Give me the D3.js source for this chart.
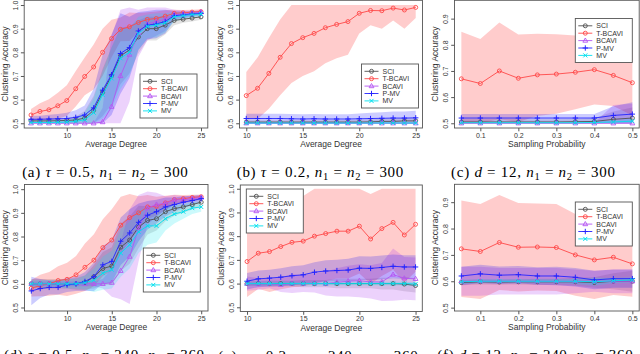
<!DOCTYPE html>
<html>
<head>
<meta charset="utf-8">
<script src="https://cdn.jsdelivr.net/npm/d3@7"></script>
<style>
body { margin: 0; background: #fff; }
svg text { font-family: "Liberation Sans", Arial, sans-serif; }
text.cap { font-family: "Liberation Serif", "DejaVu Serif", serif; }
</style>
</head>
<body>
<svg id="chart" width="640" height="354"></svg>
<script>
// series order used by every mean / sd table below
const seriesNames = ["SCI", "T-BCAVI", "BCAVI", "P-MV", "MV"];

// x values
const degTop = [6,7,8,9,10,11,12,13,14,15,16,17,18,19,20,21,22,23,24,25];
const degMid = [10,11,12,13,14,15,16,17,18,19,20,21,22,23,24,25];
const probs  = [0.05,0.1,0.15,0.2,0.25,0.3,0.35,0.4,0.45,0.5];

// (a) tau = 0.5, n1 = n2 = 300
const meanA = [
  [0.51,0.51,0.51,0.511,0.512,0.514,0.522,0.555,0.63,0.70,0.785,0.81,0.865,0.90,0.90,0.915,0.935,0.94,0.945,0.95],
  [0.535,0.55,0.557,0.574,0.596,0.646,0.698,0.738,0.80,0.858,0.897,0.908,0.926,0.939,0.943,0.953,0.965,0.967,0.970,0.972],
  [0.5,0.5,0.5,0.5,0.5,0.5,0.5,0.5,0.505,0.57,0.70,0.79,0.88,0.92,0.93,0.94,0.96,0.962,0.965,0.97],
  [0.517,0.517,0.518,0.519,0.52,0.525,0.535,0.565,0.64,0.705,0.795,0.82,0.89,0.915,0.92,0.93,0.955,0.958,0.962,0.965],
  [0.503,0.503,0.503,0.504,0.505,0.508,0.515,0.545,0.62,0.69,0.775,0.80,0.88,0.91,0.915,0.925,0.95,0.955,0.96,0.962]
];
const sdA = [
  [0.005,0.005,0.006,0.008,0.01,0.015,0.03,0.06,0.1,0.12,0.12,0.1,0.07,0.05,0.05,0.04,0.02,0.015,0.015,0.012],
  [0.025,0.035,0.045,0.055,0.065,0.075,0.08,0.095,0.1,0.08,0.05,0.06,0.04,0.03,0.03,0.025,0.015,0.012,0.01,0.01],
  [0,0,0,0,0,0,0,0.002,0.06,0.3,0.28,0.2,0.1,0.07,0.06,0.05,0.02,0.015,0.01,0.01],
  [0.015,0.015,0.018,0.02,0.025,0.03,0.04,0.08,0.15,0.17,0.17,0.13,0.08,0.06,0.06,0.05,0.02,0.015,0.012,0.01],
  [0.004,0.004,0.005,0.006,0.008,0.012,0.03,0.06,0.1,0.13,0.13,0.1,0.07,0.05,0.05,0.04,0.02,0.015,0.012,0.012]
];

// (b) tau = 0.2, n1 = n2 = 300
const meanB = [
  [0.505,0.505,0.505,0.505,0.505,0.505,0.505,0.505,0.505,0.505,0.505,0.506,0.508,0.508,0.51,0.51],
  [0.617,0.648,0.711,0.779,0.837,0.862,0.88,0.904,0.918,0.93,0.965,0.977,0.976,0.987,0.979,0.99],
  [0.5,0.5,0.5,0.5,0.5,0.5,0.5,0.5,0.5,0.5,0.5,0.5,0.5,0.5,0.5,0.5],
  [0.52,0.52,0.52,0.52,0.519,0.518,0.519,0.518,0.518,0.518,0.519,0.52,0.521,0.522,0.522,0.523],
  [0.501,0.501,0.501,0.501,0.501,0.501,0.501,0.501,0.501,0.501,0.501,0.501,0.501,0.501,0.501,0.501]
];
const sdB = [
  [0.008,0.008,0.008,0.008,0.008,0.008,0.008,0.008,0.009,0.009,0.01,0.01,0.011,0.012,0.012,0.012],
  [0.1,0.13,0.15,0.16,0.167,0.162,0.16,0.15,0.143,0.14,0.085,0.062,0.076,0.052,0.079,0.045],
  [0.002,0.002,0.002,0.002,0.002,0.002,0.002,0.002,0.002,0.002,0.002,0.002,0.002,0.002,0.002,0.002],
  [0.02,0.02,0.02,0.02,0.02,0.02,0.02,0.02,0.02,0.02,0.022,0.024,0.026,0.028,0.028,0.03],
  [0.003,0.003,0.003,0.003,0.003,0.003,0.003,0.003,0.003,0.003,0.003,0.003,0.003,0.003,0.003,0.003]
];

// (c) d = 12, n1 = n2 = 300
const meanC = [
  [0.505,0.505,0.505,0.505,0.505,0.505,0.506,0.507,0.515,0.52],
  [0.67,0.652,0.70,0.672,0.685,0.688,0.695,0.705,0.683,0.655],
  [0.5,0.5,0.5,0.5,0.5,0.5,0.5,0.5,0.5,0.5],
  [0.52,0.52,0.52,0.52,0.52,0.52,0.52,0.52,0.53,0.535],
  [0.502,0.502,0.502,0.502,0.502,0.502,0.502,0.503,0.505,0.508]
];
const sdC = [
  [0.01,0.01,0.01,0.01,0.01,0.01,0.01,0.012,0.03,0.04],
  [0.18,0.17,0.185,0.167,0.157,0.152,0.141,0.133,0.117,0.125],
  [0.002,0.002,0.002,0.002,0.002,0.002,0.002,0.002,0.07,0.075],
  [0.015,0.015,0.015,0.015,0.015,0.015,0.015,0.015,0.035,0.045],
  [0.003,0.003,0.003,0.003,0.003,0.003,0.003,0.003,0.006,0.01]
];

// (d) tau = 0.5, n1 = 240, n2 = 360
const meanD = [
  [0.60,0.60,0.60,0.60,0.60,0.60,0.605,0.63,0.665,0.675,0.755,0.785,0.84,0.868,0.875,0.905,0.918,0.925,0.935,0.945],
  [0.581,0.593,0.60,0.614,0.619,0.638,0.67,0.70,0.753,0.785,0.848,0.88,0.90,0.925,0.928,0.942,0.956,0.96,0.965,0.968],
  [0.60,0.60,0.60,0.60,0.60,0.60,0.60,0.60,0.60,0.605,0.655,0.715,0.835,0.92,0.935,0.94,0.955,0.955,0.96,0.965],
  [0.57,0.58,0.585,0.585,0.595,0.60,0.61,0.63,0.68,0.695,0.78,0.815,0.86,0.89,0.905,0.925,0.935,0.945,0.952,0.96],
  [0.60,0.60,0.60,0.60,0.60,0.60,0.605,0.615,0.645,0.66,0.73,0.765,0.82,0.845,0.845,0.875,0.895,0.905,0.92,0.925]
];
const sdD = [
  [0.02,0.02,0.02,0.02,0.02,0.025,0.03,0.05,0.07,0.08,0.1,0.1,0.09,0.06,0.05,0.04,0.03,0.025,0.02,0.02],
  [0.035,0.045,0.05,0.06,0.07,0.08,0.1,0.11,0.12,0.13,0.12,0.1,0.07,0.05,0.04,0.03,0.02,0.015,0.012,0.01],
  [0.01,0.01,0.01,0.01,0.01,0.01,0.01,0.01,0.02,0.06,0.12,0.2,0.14,0.07,0.05,0.03,0.02,0.015,0.012,0.01],
  [0.06,0.04,0.03,0.03,0.03,0.03,0.04,0.06,0.08,0.09,0.1,0.1,0.08,0.06,0.05,0.04,0.03,0.025,0.02,0.015],
  [0.015,0.015,0.015,0.015,0.02,0.02,0.03,0.05,0.07,0.08,0.1,0.1,0.09,0.08,0.07,0.05,0.04,0.03,0.025,0.02]
];

// (e) tau = 0.2, n1 = 240, n2 = 360
const meanE = [
  [0.60,0.60,0.60,0.60,0.60,0.60,0.60,0.60,0.60,0.60,0.60,0.60,0.60,0.60,0.598,0.592],
  [0.693,0.728,0.735,0.756,0.774,0.779,0.80,0.811,0.821,0.821,0.842,0.788,0.832,0.858,0.805,0.85],
  [0.60,0.598,0.60,0.595,0.60,0.60,0.602,0.60,0.605,0.61,0.612,0.607,0.607,0.638,0.622,0.62],
  [0.61,0.62,0.623,0.627,0.633,0.637,0.648,0.653,0.655,0.657,0.665,0.664,0.668,0.673,0.67,0.67],
  [0.60,0.60,0.60,0.60,0.60,0.60,0.60,0.60,0.60,0.60,0.60,0.60,0.60,0.60,0.60,0.598]
];
const sdE = [
  [0.01,0.01,0.012,0.012,0.012,0.015,0.015,0.015,0.02,0.02,0.02,0.02,0.025,0.025,0.03,0.03],
  [0.15,0.15,0.17,0.18,0.19,0.19,0.2,0.2,0.2,0.2,0.2,0.19,0.2,0.2,0.2,0.2],
  [0.03,0.025,0.02,0.03,0.04,0.035,0.04,0.05,0.06,0.065,0.07,0.07,0.08,0.11,0.09,0.09],
  [0.035,0.035,0.035,0.038,0.04,0.04,0.042,0.045,0.045,0.048,0.05,0.05,0.05,0.05,0.05,0.05],
  [0.008,0.008,0.008,0.008,0.008,0.008,0.008,0.008,0.008,0.008,0.008,0.008,0.008,0.008,0.008,0.008]
];

// (f) d = 12, n1 = 240, n2 = 360
const meanF = [
  [0.595,0.598,0.597,0.598,0.598,0.598,0.598,0.595,0.60,0.60],
  [0.723,0.713,0.747,0.729,0.73,0.728,0.70,0.681,0.691,0.666],
  [0.60,0.60,0.60,0.60,0.60,0.60,0.60,0.60,0.60,0.60],
  [0.62,0.628,0.623,0.625,0.62,0.62,0.615,0.605,0.61,0.61],
  [0.598,0.60,0.60,0.60,0.60,0.60,0.60,0.598,0.602,0.605]
];
const sdF = [
  [0.01,0.01,0.01,0.01,0.012,0.012,0.015,0.02,0.03,0.04],
  [0.183,0.18,0.18,0.168,0.165,0.165,0.155,0.148,0.143,0.125],
  [0.055,0.055,0.05,0.05,0.05,0.05,0.045,0.04,0.045,0.045],
  [0.035,0.035,0.033,0.033,0.033,0.035,0.035,0.035,0.035,0.035],
  [0.008,0.008,0.008,0.008,0.008,0.008,0.01,0.015,0.01,0.01]
];

const degTicks = [10,15,20,25];
const probTicks = [0.1,0.2,0.3,0.4,0.5];
const accTicks = [0.5,0.6,0.7,0.8,0.9,1.0];
const accTicksShort = [0.5,0.6,0.7,0.8,0.9];

// captions: [text, style]  style: "" normal, "i" italic, "s" subscript
const capA = [["(a) ",""],["τ","i"],[" = 0.5, ",""],["n","i"],["1","s"],[" = ",""],["n","i"],["2","s"],[" = 300",""]];
const capB = [["(b) ",""],["τ","i"],[" = 0.2, ",""],["n","i"],["1","s"],[" = ",""],["n","i"],["2","s"],[" = 300",""]];
const capC = [["(c) ",""],["d","i"],[" = 12, ",""],["n","i"],["1","s"],[" = ",""],["n","i"],["2","s"],[" = 300",""]];
const capD = [["(d) ",""],["τ","i"],[" = 0.5, ",""],["n","i"],["1","s"],[" = 240, ",""],["n","i"],["2","s"],[" = 360",""]];
const capE = [["(e) ",""],["τ","i"],[" = 0.2, ",""],["n","i"],["1","s"],[" = 240, ",""],["n","i"],["2","s"],[" = 360",""]];
const capF = [["(f) ",""],["d","i"],[" = 12, ",""],["n","i"],["1","s"],[" = 240, ",""],["n","i"],["2","s"],[" = 360",""]];

// styles
const lineColors = ["#505050", "#ff4848", "#b455f2", "#2424ff", "#00e0ee"];
const bandColors = ["#707070", "#ff0000", "#a020f0", "#0000ff", "#00e5ee"];
const bandAlpha  = [0.2, 0.2, 0.2, 0.2, 0.2];
const shapes = ["circle", "circle", "triangle", "plus", "cross"];

const panels = [
  {x: degTop, mean: meanA, sd: sdA, box: [24.2, 207.8, 0.3, 128], ylim: [0.5, 1.0], xt: degTicks, yt: accTicks, xf: "d", xlab: "Average Degree", leg: [140, 74], cap: capA, capX: 105},
  {x: degMid, mean: meanB, sd: sdB, box: [239.5, 422.5, 0.3, 128], ylim: [0.5, 1.0], xt: degTicks, yt: accTicks, xf: "d", xlab: "Average Degree", leg: [361.5, 64], cap: capB, capX: 320},
  {x: probs,  mean: meanC, sd: sdC, box: [454.5, 639.2, 0.3, 128], ylim: [0.5, 0.952], xt: probTicks, yt: accTicksShort, xf: ".1f", xlab: "Sampling Probability", leg: [575.3, 18.5], cap: capC, capX: 533},
  {x: degTop, mean: meanD, sd: sdD, box: [24.5, 208, 184.5, 311], ylim: [0.505, 1.0], xt: degTicks, yt: accTicks, xf: "d", xlab: "Average Degree", leg: [143.3, 248], cap: capD, capX: 104},
  {x: degMid, mean: meanE, sd: sdE, box: [240.3, 422.3, 185, 311.5], ylim: [0.502, 0.996], xt: degTicks, yt: accTicks, xf: "d", xlab: "Average Degree", leg: [246.3, 189], cap: capE, capX: 318},
  {x: probs,  mean: meanF, sd: sdF, box: [454.5, 639.2, 184.3, 311], ylim: [0.505, 0.95], xt: probTicks, yt: accTicksShort, xf: ".1f", xlab: "Sampling Probability", leg: [575.3, 202], cap: capF, capX: 535}
];

const svg = d3.select("#chart");

function pad(lim) {
  const s = lim[1] - lim[0];
  return [lim[0] - 0.04 * s, lim[1] + 0.04 * s];
}

function marker(sel, shape, color) {
  if (shape === "circle") {
    sel.append("circle").attr("r", 2).attr("fill", "none").attr("stroke", color).attr("stroke-width", 0.9);
  } else if (shape === "triangle") {
    sel.append("path").attr("d", "M0,-2.6L2.4,1.6L-2.4,1.6Z").attr("fill", "none").attr("stroke", color).attr("stroke-width", 0.9);
  } else if (shape === "plus") {
    sel.append("path").attr("d", "M-2.7,0H2.7M0,-2.7V2.7").attr("stroke", color).attr("stroke-width", 1);
  } else {
    sel.append("path").attr("d", "M-2,-2L2,2M-2,2L2,-2").attr("stroke", color).attr("stroke-width", 1);
  }
}

function drawPanel(p, pi) {
  const [x0, x1, y0, y1] = p.box;
  const x = d3.scaleLinear().domain(pad(d3.extent(p.x))).range([x0, x1]);
  const y = d3.scaleLinear().domain(pad(p.ylim)).range([y1, y0]);
  const g = svg.append("g");

  const clipId = "clip" + pi;
  g.append("clipPath").attr("id", clipId)
    .append("rect").attr("x", x0).attr("y", y0).attr("width", x1 - x0).attr("height", y1 - y0);

  const plot = g.append("g").attr("clip-path", "url(#" + clipId + ")");

  // bands
  p.mean.forEach((m, si) => {
    const rows = p.x.map((xv, i) => ({x: xv, lo: Math.max(0.5, m[i] - p.sd[si][i]), hi: Math.min(1.0, m[i] + p.sd[si][i])}));
    const area = d3.area().x(d => x(d.x)).y0(d => y(d.lo)).y1(d => y(d.hi));
    plot.append("path").datum(rows)
      .attr("d", area)
      .attr("fill", bandColors[si])
      .attr("fill-opacity", bandAlpha[si]);
  });

  // lines + markers
  p.mean.forEach((m, si) => {
    const rows = p.x.map((xv, i) => ({x: xv, y: m[i]}));
    const line = d3.line().x(d => x(d.x)).y(d => y(d.y));
    plot.append("path").datum(rows)
      .attr("d", line)
      .attr("fill", "none")
      .attr("stroke", lineColors[si])
      .attr("stroke-width", 0.9);
    plot.selectAll(null).data(rows).enter()
      .append("g")
      .attr("transform", d => "translate(" + x(d.x) + "," + y(d.y) + ")")
      .each(function () { marker(d3.select(this), shapes[si], lineColors[si]); });
  });

  // box
  g.append("rect").attr("x", x0).attr("y", y0).attr("width", x1 - x0).attr("height", y1 - y0)
    .attr("fill", "none").attr("stroke", "#555").attr("stroke-width", 0.9);

  // axes
  const xa = g.append("g").attr("transform", "translate(0," + y1 + ")")
    .call(d3.axisBottom(x).tickValues(p.xt).tickFormat(d3.format(p.xf)).tickSize(3.3).tickSizeOuter(0));
  xa.select(".domain").remove();
  xa.selectAll("line").attr("stroke", "#555");
  xa.selectAll("text").attr("y", 9.6).attr("dy", 0).attr("font-size", 7).attr("fill", "#333")
    .style("font-family", "'Liberation Sans', Arial, sans-serif");

  const ya = g.append("g").attr("transform", "translate(" + x0 + ",0)")
    .call(d3.axisLeft(y).tickValues(p.yt).tickFormat(d3.format(".1f")).tickSize(3.3).tickSizeOuter(0));
  ya.select(".domain").remove();
  ya.selectAll("line").attr("stroke", "#555");
  ya.selectAll("text").attr("x", 0).attr("y", -6.3).attr("dy", 0)
    .attr("transform", "rotate(-90)").attr("text-anchor", "middle")
    .attr("font-size", 7).attr("fill", "#333")
    .style("font-family", "'Liberation Sans', Arial, sans-serif");

  // axis titles
  g.append("text").attr("x", (x0 + x1) / 2).attr("y", y1 + 19)
    .attr("text-anchor", "middle").attr("font-size", 8.5).attr("fill", "#333").text(p.xlab);
  g.append("text")
    .attr("transform", "translate(" + (x0 - 16.3) + "," + ((y0 + y1) / 2) + ") rotate(-90)")
    .attr("text-anchor", "middle").attr("font-size", 8.5).attr("fill", "#333").text("Clustering Accuracy");

  // legend
  const [lx, ly] = p.leg;
  const lg = g.append("g").attr("transform", "translate(" + lx + "," + ly + ")");
  lg.append("rect").attr("width", 57).attr("height", 44)
    .attr("fill", "#fff").attr("stroke", "#555").attr("stroke-width", 0.9);
  seriesNames.forEach((name, si) => {
    const yy = 7.3 + si * 7.4;
    lg.append("line").attr("x1", 3).attr("x2", 17).attr("y1", yy).attr("y2", yy)
      .attr("stroke", lineColors[si]).attr("stroke-width", 0.9);
    marker(lg.append("g").attr("transform", "translate(10," + yy + ")"), shapes[si], lineColors[si]);
    lg.append("text").attr("x", 21).attr("y", yy + 2.5).attr("font-size", 7).attr("fill", "#333").text(name);
  });

  // caption (LaTeX-like: widened spacing)
  const ct = g.append("text").attr("class", "cap")
    .attr("x", p.capX).attr("y", y1 + 49).attr("text-anchor", "middle")
    .attr("font-size", 15).attr("fill", "#000");
  let shifted = false;
  p.cap.forEach(([txt, st]) => {
    const t = ct.append("tspan").text(txt);
    if (st === "i") t.attr("font-style", "italic");
    if (st === "s") { t.attr("font-size", 10.5).attr("dy", 3); shifted = true; }
    else if (shifted) { t.attr("dy", -3); shifted = false; }
  });
  const w = ct.node().getComputedTextLength();
  ct.attr("textLength", w * 1.12).attr("lengthAdjust", "spacing");
}

panels.forEach(drawPanel);
</script>
</body>
</html>
